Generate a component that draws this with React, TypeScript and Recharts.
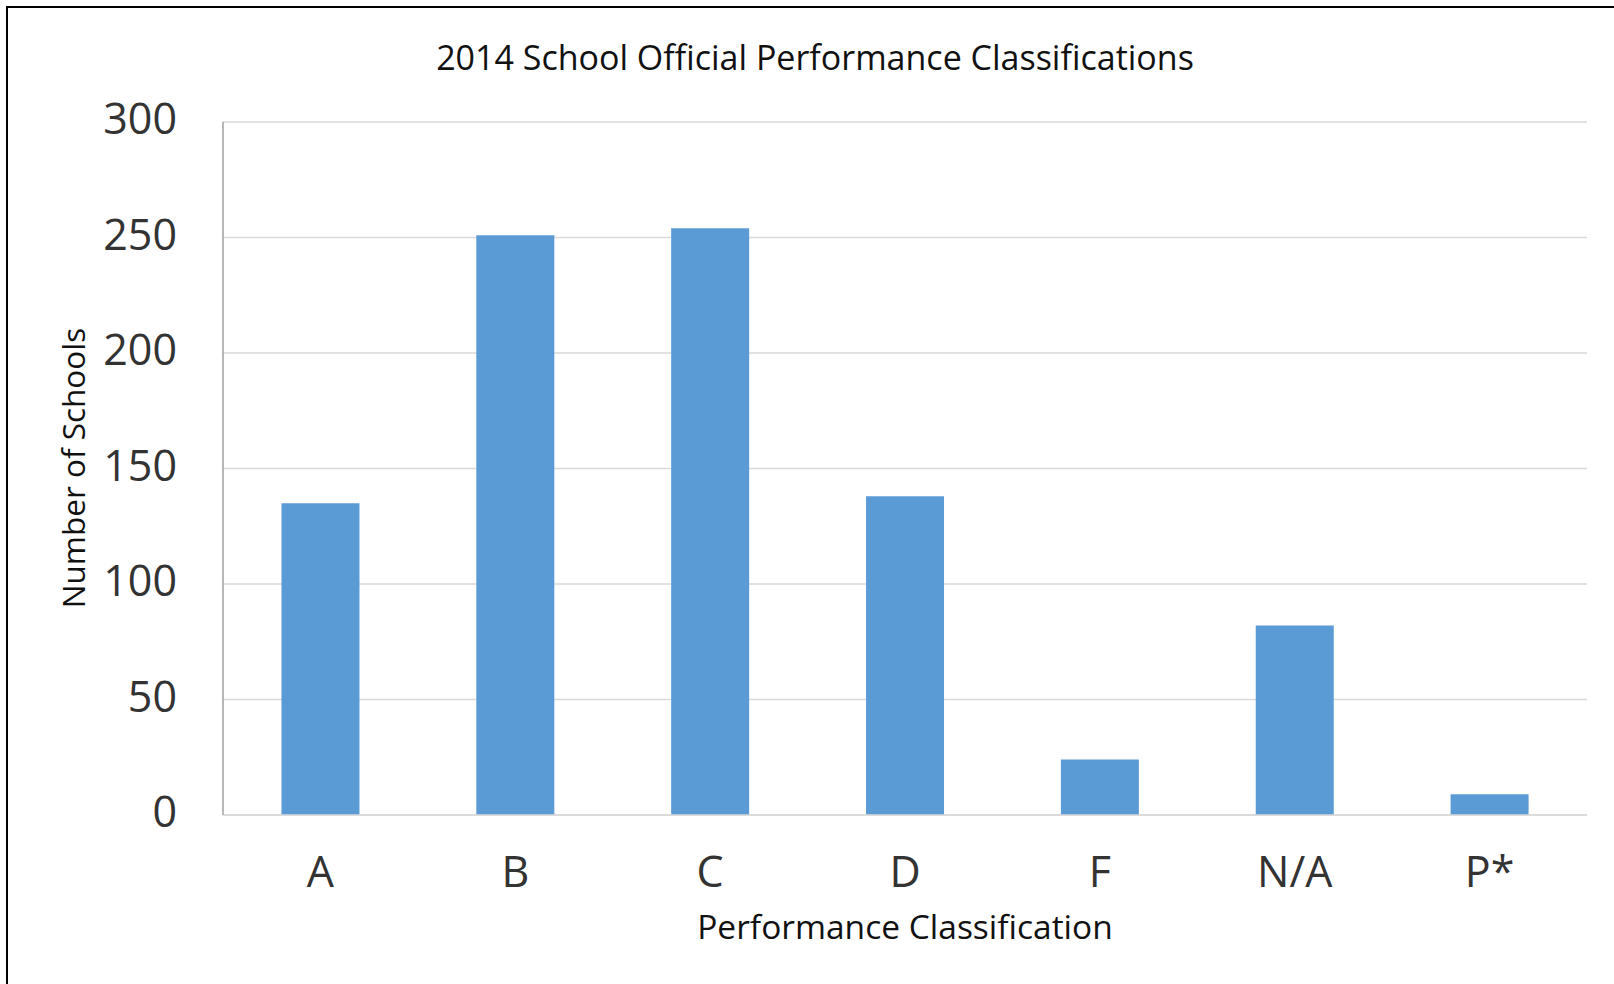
import React from "react";
import { BarChart, Bar, XAxis, YAxis, CartesianGrid, Label } from "recharts";

const categories = ["A", "B", "C", "D", "F", "N/A", "P*"];
const schoolCounts = [135, 251, 254, 138, 24, 82, 9];
const yTicks = [0, 50, 100, 150, 200, 250, 300];

const data = categories.map((c, i) => ({ name: c, value: schoolCounts[i] }));

const FONT = "'Open Sans', 'DejaVu Sans', sans-serif";

export default function App() {
  return (
    <div
      style={{
        position: "absolute",
        left: 0,
        top: 0,
        width: 1614,
        height: 984,
        overflow: "hidden",
        background: "#fff",
        fontFamily: FONT,
      }}
    >
      <div
        style={{
          position: "absolute",
          left: 6,
          top: 6,
          width: 1700,
          height: 1100,
          border: "2.5px solid #000",
        }}
      />
      <div
        style={{
          position: "absolute",
          left: 0,
          width: 1630,
          top: 34,
          textAlign: "center",
          fontSize: 34,
          color: "#111",
          lineHeight: "46px",
        }}
      >
        2014 School Official Performance Classifications
      </div>
      <div style={{ position: "absolute", left: 0, top: 0 }}>
        <BarChart
          width={1614}
          height={984}
          data={data}
          margin={{ top: 122, right: 27, left: 163, bottom: 39 }}
          barCategoryGap="30%"
        >
          <CartesianGrid vertical={false} stroke="#d9d9d9" strokeWidth={1.5} />
          <XAxis
            dataKey="name"
            height={130}
            tickLine={false}
            tickSize={0}
            tickMargin={41}
            axisLine={{ stroke: "#d9d9d9", strokeWidth: 1.5 }}
            tick={{ fontSize: 43, fill: "#333", fontFamily: FONT }}
          >
            <Label
              value="Performance Classification"
              position="insideBottom"
              offset={6}
              style={{ fontSize: 33.5, fill: "#111", fontFamily: FONT }}
            />
          </XAxis>
          <YAxis
            width={60}
            domain={[0, 300]}
            ticks={yTicks}
            interval={0}
            tickLine={false}
            tickSize={0}
            tickMargin={46}
            axisLine={{ stroke: "#a0a0a0", strokeWidth: 1.5 }}
            tick={{ fontSize: 43, fill: "#333", fontFamily: FONT, dy: -3 }}
          />
          <Bar dataKey="value" fill="#5b9bd5" isAnimationActive={false} />
        </BarChart>
      </div>
      <svg
        width={1614}
        height={984}
        style={{ position: "absolute", left: 0, top: 0, pointerEvents: "none" }}
      >
        <text
          x={0}
          y={0}
          transform="translate(85, 468) rotate(-90)"
          textAnchor="middle"
          fontSize={31.5}
          fill="#111"
          fontFamily={FONT}
        >
          Number of Schools
        </text>
      </svg>
    </div>
  );
}
